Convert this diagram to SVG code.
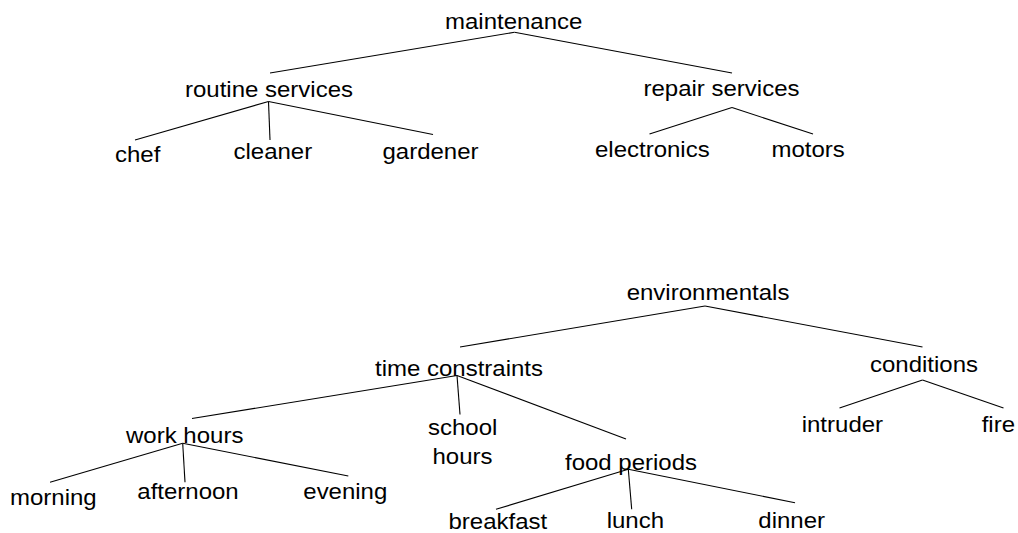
<svg xmlns="http://www.w3.org/2000/svg" width="1018" height="533" viewBox="0 0 1018 533">
<style>
text{font-family:"Liberation Sans",Arial,sans-serif;font-size:22px;fill:#000}
.c line{stroke:#000;stroke-width:1.1}
</style>
<rect width="1018" height="533" fill="#fff"/>
<g class="c" id="connectors">
<line x1="514.5" y1="32.3" x2="270" y2="73"/>
<line x1="514.5" y1="32.3" x2="732" y2="73"/>
<line x1="268.5" y1="101.5" x2="135" y2="140"/>
<line x1="268.5" y1="101.5" x2="270" y2="140"/>
<line x1="268.5" y1="101.5" x2="433" y2="134.5"/>
<line x1="732" y1="107.5" x2="649.5" y2="134"/>
<line x1="732" y1="107.5" x2="813" y2="134"/>
<line x1="705" y1="306" x2="460" y2="347"/>
<line x1="705" y1="306" x2="922.5" y2="347"/>
<line x1="457" y1="375.5" x2="192" y2="418.5"/>
<line x1="457" y1="375.5" x2="460" y2="414.5"/>
<line x1="457" y1="375.5" x2="626" y2="439"/>
<line x1="922.5" y1="380" x2="839.5" y2="408"/>
<line x1="922.5" y1="380" x2="1003.5" y2="408"/>
<line x1="182.7" y1="443.3" x2="50" y2="482.3"/>
<line x1="182.7" y1="443.3" x2="185" y2="482.3"/>
<line x1="182.7" y1="443.3" x2="348.3" y2="476"/>
<line x1="628.3" y1="469.3" x2="496" y2="509.3"/>
<line x1="628.3" y1="469.3" x2="631.7" y2="509.3"/>
<line x1="628.3" y1="469.3" x2="795" y2="502.7"/>
</g>
<g id="maintenance"><text x="445" y="29.3" textLength="137.4" lengthAdjust="spacingAndGlyphs">maintenance</text></g>
<g id="routine-services"><text x="185" y="96.5" textLength="168" lengthAdjust="spacingAndGlyphs">routine services</text></g>
<g id="repair-services"><text x="643.5" y="96" textLength="156" lengthAdjust="spacingAndGlyphs">repair services</text></g>
<g id="chef"><text x="115" y="162" textLength="45.4" lengthAdjust="spacingAndGlyphs">chef</text></g>
<g id="cleaner"><text x="233.5" y="158.5" textLength="78.7" lengthAdjust="spacingAndGlyphs">cleaner</text></g>
<g id="gardener"><text x="382.5" y="158.5" textLength="96" lengthAdjust="spacingAndGlyphs">gardener</text></g>
<g id="electronics"><text x="595" y="157" textLength="114.7" lengthAdjust="spacingAndGlyphs">electronics</text></g>
<g id="motors"><text x="771.5" y="157" textLength="73.3" lengthAdjust="spacingAndGlyphs">motors</text></g>
<g id="environmentals"><text x="626.7" y="300" textLength="162.7" lengthAdjust="spacingAndGlyphs">environmentals</text></g>
<g id="time-constraints"><text x="375" y="376" textLength="168" lengthAdjust="spacingAndGlyphs">time constraints</text></g>
<g id="conditions"><text x="870" y="372" textLength="108" lengthAdjust="spacingAndGlyphs">conditions</text></g>
<g id="work-hours"><text x="126" y="443" textLength="117.4" lengthAdjust="spacingAndGlyphs">work hours</text></g>
<g id="school-hours"><text x="428" y="435" textLength="69.4" lengthAdjust="spacingAndGlyphs">school</text><text x="432.5" y="463.5" textLength="60" lengthAdjust="spacingAndGlyphs">hours</text></g>
<g id="food-periods"><text x="565" y="469.5" textLength="132" lengthAdjust="spacingAndGlyphs">food periods</text></g>
<g id="intruder"><text x="801.7" y="432" textLength="81.4" lengthAdjust="spacingAndGlyphs">intruder</text></g>
<g id="fire"><text x="981.7" y="432" textLength="33.3" lengthAdjust="spacingAndGlyphs">fire</text></g>
<g id="morning"><text x="10" y="505" textLength="86.7" lengthAdjust="spacingAndGlyphs">morning</text></g>
<g id="afternoon"><text x="137.3" y="498.5" textLength="101.4" lengthAdjust="spacingAndGlyphs">afternoon</text></g>
<g id="evening"><text x="303.3" y="498.5" textLength="84" lengthAdjust="spacingAndGlyphs">evening</text></g>
<g id="breakfast"><text x="448.5" y="528.5" textLength="98.7" lengthAdjust="spacingAndGlyphs">breakfast</text></g>
<g id="lunch"><text x="606.7" y="528" textLength="57.4" lengthAdjust="spacingAndGlyphs">lunch</text></g>
<g id="dinner"><text x="758.3" y="528" textLength="66.7" lengthAdjust="spacingAndGlyphs">dinner</text></g>
</svg>
